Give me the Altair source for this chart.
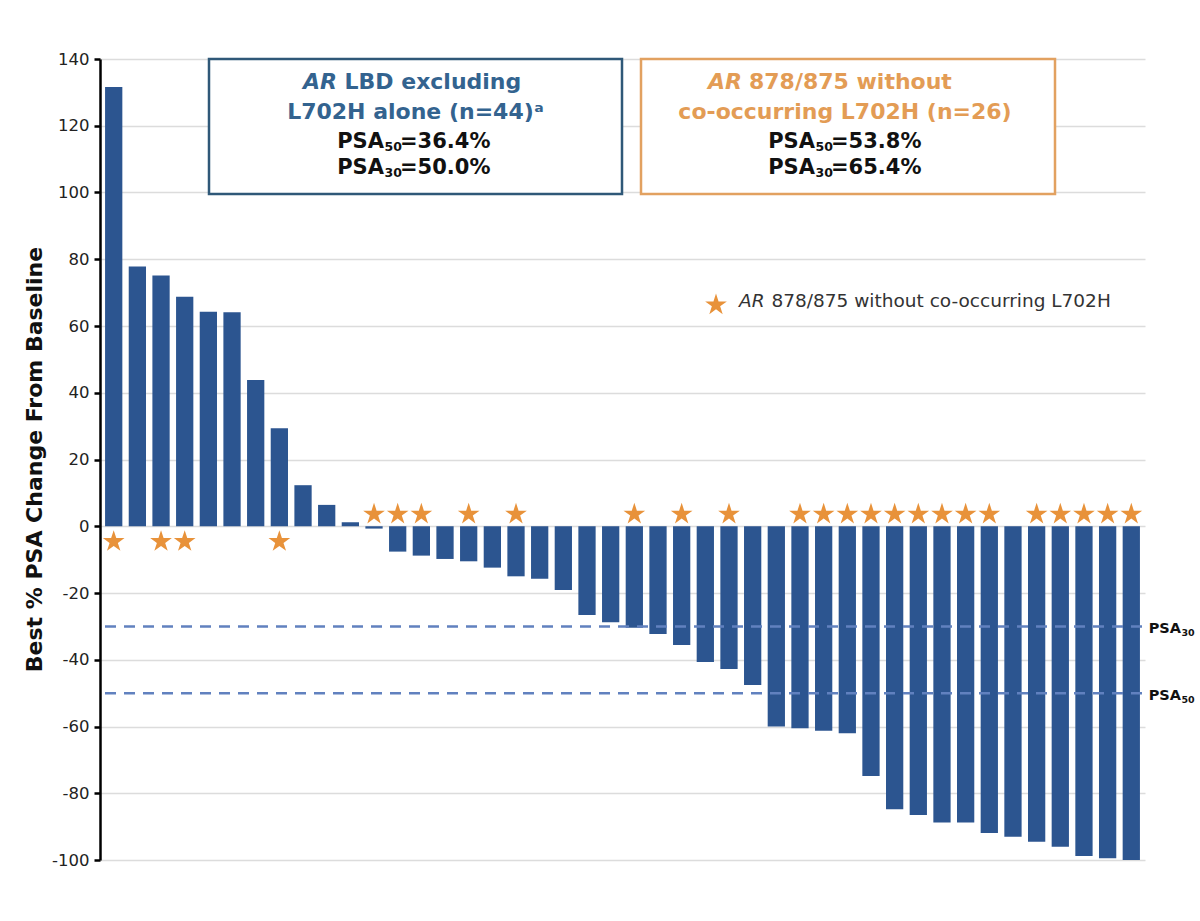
import altair as alt
import pandas as pd

# ---------------- data ----------------
patients = list(range(1, 45))
best_psa_change = [131.6, 77.8, 75.1, 68.8, 64.3, 64.1, 43.8, 29.4, 12.3, 6.4, 1.2, -0.7,
                   -7.6, -8.8, -9.8, -10.5, -12.4, -15.0, -15.7, -19.1, -26.6, -28.8,
                   -30.4, -32.3, -35.6, -40.7, -42.8, -47.6, -60.0, -60.5, -61.3, -62.0,
                   -74.8, -84.8, -86.5, -88.8, -88.8, -91.9, -93.0, -94.5, -96.0, -98.8,
                   -99.5, -100.0]
starred_patients = [1, 3, 4, 8, 12, 13, 14, 16, 18, 23, 25, 27, 30, 31, 32, 33, 34, 35,
                    36, 37, 38, 40, 41, 42, 43, 44]
thresholds = [-30, -50]
threshold_subs = ["30", "50"]
y_ticks = list(range(-100, 141, 20))

box1_head = ["AR", "LBD excluding", "L702H alone (n=44)\u1d43"]
box2_head = ["AR", "878/875 without", "co-occurring L702H (n=26)"]
box1_psa = [("PSA", "50", "=36.4%"), ("PSA", "30", "=50.0%")]
box2_psa = [("PSA", "50", "=53.8%"), ("PSA", "30", "=65.4%")]
legend_parts = ["AR", "878/875 without co-occurring L702H"]
y_title = "Best % PSA Change From Baseline"

df = pd.DataFrame({
    "patient": patients,
    "change": best_psa_change,
    "star": [p in starred_patients for p in patients],
})
thr_df = pd.DataFrame({"thr": thresholds, "sub": threshold_subs, "psa": ["PSA", "PSA"]})
one = pd.DataFrame({"a": [0]})

FONT = "DejaVu Sans"
BAR = "#2C5590"
ORANGE = "#E8923A"
BLUE_TXT = "#33638F"
BLUE_BOX = "#2F5878"
ORANGE_TXT = "#E39C55"
ORANGE_BOX = "#E2A160"
STAR_PATH = ("M0,-1L0.2245,-0.309L0.951,-0.309L0.3633,0.118L0.5878,0.809L0,0.382"
             "L-0.5878,0.809L-0.3633,0.118L-0.951,-0.309L-0.2245,-0.309Z")

W, H = 1045, 801

xenc = alt.X("patient:O", axis=None,
             scale=alt.Scale(paddingInner=0.27, paddingOuter=0.214))
yscale = alt.Scale(domain=[-100, 140], nice=False)

bars = alt.Chart(df).mark_bar(color=BAR).encode(
    x=xenc,
    y=alt.Y("change:Q", scale=yscale,
            axis=alt.Axis(values=y_ticks, title=None, grid=True,
                          gridColor="#DCDCDC", gridWidth=1.5,
                          domainColor="black", domainWidth=2.5,
                          tickColor="black", tickWidth=2.5, tickSize=6,
                          labelFont=FONT, labelFontSize=16.5, labelColor="#222222",
                          labelPadding=5, labelExpr="'' + datum.value")),
)

stars = alt.Chart(df).transform_filter("datum.star").transform_calculate(
    sy="datum.change < 0 ? 3.6 : -4.6"
).mark_point(shape=STAR_PATH, filled=True, size=520, color=ORANGE, opacity=1,
             strokeWidth=0).encode(
    x=xenc,
    y=alt.Y("sy:Q", scale=yscale),
)

dash = alt.Chart(thr_df).mark_rule(color="#6181BF", strokeWidth=2.5,
                                   strokeDash=[11, 8]).encode(
    y=alt.Y("thr:Q", scale=yscale),
    x=alt.value(5), x2=alt.value(W - 2),
)
thr_main = alt.Chart(thr_df).mark_text(font=FONT, fontWeight="bold", fontSize=14.5,
                                       align="right", baseline="middle", dy=3,
                                       color="#111111").encode(
    y=alt.Y("thr:Q", scale=yscale), x=alt.value(W + 36), text="psa:N")
thr_sub = alt.Chart(thr_df).mark_text(font=FONT, fontWeight="bold", fontSize=9.5,
                                      align="left", baseline="middle", dy=7,
                                      color="#111111").encode(
    y=alt.Y("thr:Q", scale=yscale), x=alt.value(W + 36.5), text="sub:N")


def label(txt, x, y, size=22, weight="bold", style="normal", color="#111111",
          align="center", angle=0):
    kw = dict(text=txt, font=FONT, fontSize=size, fontWeight=weight, fontStyle=style,
              color=color, align=align, baseline="middle")
    if angle:
        kw["angle"] = angle
    return alt.Chart(one).mark_text(**kw).encode(x=alt.value(x), y=alt.value(y))


def box(x1, x2, color):
    return alt.Chart(one).mark_rect(fill="white", stroke=color, strokeWidth=2.5).encode(
        x=alt.value(x1), x2=alt.value(x2), y=alt.value(0), y2=alt.value(135))


def psa_line(parts, split, y):
    main, sub, rest = parts
    return [
        label(main, split, y, size=21, align="right"),
        label(sub, split + 0.5, y + 5, size=12.5, align="left"),
        label(rest, split + 16, y, size=21, align="left"),
    ]


L1, L2, L3, L4 = 22.7, 52.7, 82.7, 109
annots = [
    box(109, 522, BLUE_BOX),
    box(541, 955, ORANGE_BOX),
    label(box1_head[0], 237, L1, style="italic", color=BLUE_TXT, align="right"),
    label(box1_head[1], 244.5, L1, color=BLUE_TXT, align="left"),
    label(box1_head[2], 315.5, L2, color=BLUE_TXT),
    *psa_line(box1_psa[0], 284, L3),
    *psa_line(box1_psa[1], 284, L4),
    label(box2_head[0], 642, L1, style="italic", color=ORANGE_TXT, align="right"),
    label(box2_head[1], 649, L1, color=ORANGE_TXT, align="left"),
    label(box2_head[2], 745, L2, color=ORANGE_TXT),
    *psa_line(box2_psa[0], 715, L3),
    *psa_line(box2_psa[1], 715, L4),
    label(legend_parts[0], 639, 242, size=18.5, weight="normal", style="italic",
          color="#333333", align="left"),
    label(legend_parts[1], 671.5, 242, size=18.5, weight="normal", color="#333333",
          align="left"),
    label(y_title, -65, H / 2, size=22, angle=270),
]

legend_star = alt.Chart(one).mark_point(shape=STAR_PATH, filled=True, size=520,
                                        color=ORANGE, opacity=1, strokeWidth=0).encode(
    x=alt.value(616), y=alt.value(246))

chart = alt.layer(bars, dash, stars, thr_main, thr_sub, *annots, legend_star).properties(
    width=W, height=H, autosize="none",
    padding={"left": 100, "top": 59, "right": 55, "bottom": 61},
    background="white",
).configure_view(stroke=None)

chart.save("out.html", embed_options={"renderer": "svg", "actions": False})
